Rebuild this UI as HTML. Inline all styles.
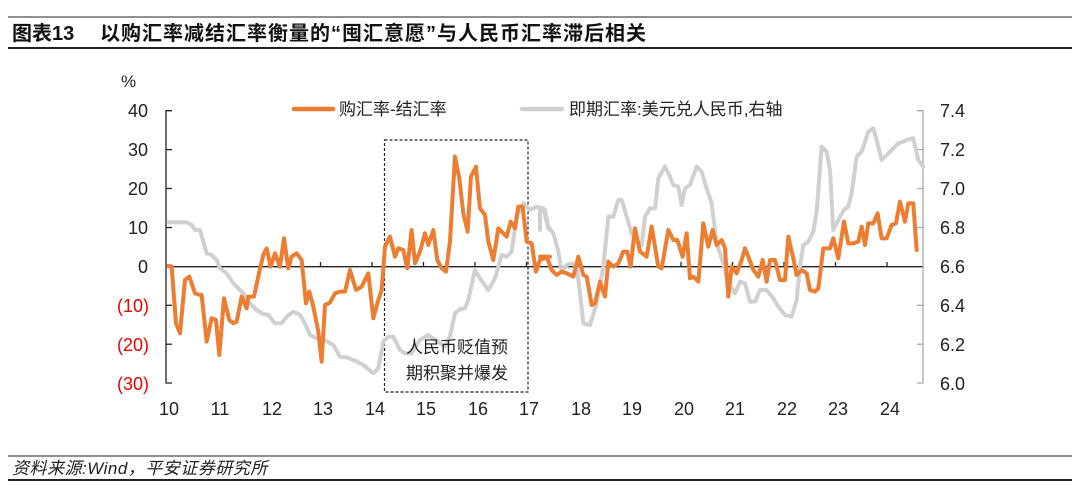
<!DOCTYPE html>
<html><head><meta charset="utf-8"><style>
body{margin:0;background:#fff;}
svg{display:block;font-family:"Liberation Sans","Noto Sans CJK SC",sans-serif;}
</style></head><body>
<svg width="1080" height="498" viewBox="0 0 1080 498" xmlns="http://www.w3.org/2000/svg">
<line x1="8" y1="17" x2="1072" y2="17" stroke="#222" stroke-width="1"/>
<line x1="8" y1="48" x2="1072" y2="48" stroke="#222" stroke-width="2"/>
<text x="12" y="40" font-size="20" font-weight="bold" fill="#111">图表13</text>
<text x="100" y="40" font-size="20" font-weight="bold" fill="#111" letter-spacing="1">以购汇率减结汇率衡量的“囤汇意愿”与人民币汇率滞后相关</text>

<line x1="8" y1="456" x2="1072" y2="456" stroke="#222" stroke-width="1"/>
<line x1="8" y1="480" x2="1072" y2="480" stroke="#222" stroke-width="2"/>
<text x="12" y="474" font-size="17" font-style="italic" fill="#222" letter-spacing="0.5">资料来源:Wind，平安证券研究所</text>

<g stroke="#222" stroke-width="1.3" fill="none">
<polyline points="172,110.7 166,110.7 166,383 172,383"/>
<line x1="166" y1="149.6" x2="172" y2="149.6"/><line x1="166" y1="188.5" x2="172" y2="188.5"/>
<line x1="166" y1="227.5" x2="172" y2="227.5"/><line x1="166" y1="305.3" x2="172" y2="305.3"/>
<line x1="166" y1="344.2" x2="172" y2="344.2"/>
<line x1="166" y1="266.7" x2="923" y2="266.7"/>
<g>
<line x1="217.5" y1="266.7" x2="217.5" y2="262"/><line x1="269" y1="266.7" x2="269" y2="262"/>
<line x1="320.5" y1="266.7" x2="320.5" y2="262"/><line x1="372" y1="266.7" x2="372" y2="262"/>
<line x1="423.5" y1="266.7" x2="423.5" y2="262"/><line x1="475" y1="266.7" x2="475" y2="262"/>
<line x1="526.5" y1="266.7" x2="526.5" y2="262"/><line x1="578" y1="266.7" x2="578" y2="262"/>
<line x1="629.5" y1="266.7" x2="629.5" y2="262"/><line x1="681" y1="266.7" x2="681" y2="262"/>
<line x1="732.5" y1="266.7" x2="732.5" y2="262"/><line x1="784" y1="266.7" x2="784" y2="262"/>
<line x1="835.5" y1="266.7" x2="835.5" y2="262"/><line x1="887" y1="266.7" x2="887" y2="262"/>
</g>
</g>
<g stroke="#aaa" stroke-width="1.3" fill="none">
<polyline points="917,110.7 923,110.7 923,383 917,383"/>
<line x1="917" y1="149.6" x2="923" y2="149.6"/><line x1="917" y1="188.5" x2="923" y2="188.5"/>
<line x1="917" y1="227.5" x2="923" y2="227.5"/><line x1="917" y1="305.3" x2="923" y2="305.3"/>
<line x1="917" y1="344.2" x2="923" y2="344.2"/>
</g>

<g font-size="18" fill="#222" text-anchor="end">
<text x="148" y="117">40</text><text x="148" y="156">30</text><text x="148" y="195">20</text>
<text x="148" y="234">10</text><text x="148" y="273">0</text>
<text x="149" y="312" fill="#e00">(10)</text><text x="149" y="351" fill="#e00">(20)</text><text x="149" y="390" fill="#e00">(30)</text>
</g>
<text x="121" y="87" font-size="17" fill="#222">%</text>
<g font-size="18" fill="#222">
<text x="940" y="117">7.4</text><text x="940" y="156">7.2</text><text x="940" y="195">7.0</text>
<text x="940" y="234">6.8</text><text x="940" y="273">6.6</text><text x="940" y="312">6.4</text>
<text x="940" y="351">6.2</text><text x="940" y="390">6.0</text>
</g>
<g font-size="18" fill="#222" text-anchor="middle">
<text x="169" y="415">10</text><text x="220" y="415">11</text><text x="272" y="415">12</text>
<text x="323" y="415">13</text><text x="375" y="415">14</text><text x="426" y="415">15</text>
<text x="478" y="415">16</text><text x="529" y="415">17</text><text x="581" y="415">18</text>
<text x="632" y="415">19</text><text x="684" y="415">20</text><text x="735" y="415">21</text>
<text x="787" y="415">22</text><text x="838" y="415">23</text><text x="890" y="415">24</text>
</g>

<line x1="294" y1="109" x2="333" y2="109" stroke="#ed7d31" stroke-width="4.5" stroke-linecap="round"/>
<text x="339" y="115" font-size="17" fill="#222">购汇率-结汇率</text>
<line x1="522" y1="109" x2="562" y2="109" stroke="#d0d0d0" stroke-width="4.5" stroke-linecap="round"/>
<text x="569" y="115" font-size="17" fill="#222">即期汇率:美元兑人民币,右轴</text>

<rect x="384.5" y="140" width="143.5" height="252" fill="none" stroke="#222" stroke-width="1.2" stroke-dasharray="3,2"/>

<g fill="none" stroke-linejoin="round" stroke-linecap="round">
<g transform="translate(100,60) scale(0.3333)" stroke="#d0d0d0">
<polyline vector-effect="non-scaling-stroke" stroke-width="4" points="205,487 260,487 275,495 285,510 300,510 320,580 335,585 350,600 360,625 380,640 400,670 430,700 450,730 470,750 490,762 505,765 525,790 545,790 560,770 580,755 600,765 615,790 630,825 650,835 670,838 700,855 720,890 740,892 760,900 790,915 820,940 835,925 850,845 865,830 880,830 900,870 915,880 935,880 960,840 985,825 1005,840 1035,860 1050,830 1065,760 1080,748 1095,745 1105,720 1125,630 1140,655 1165,690 1185,655 1205,585 1220,590 1235,575 1250,470 1270,430 1290,450 1310,440 1330,445 1345,505 1350,510"/>
</g>
<g transform="translate(540,60) scale(0.3333)" stroke="#d0d0d0">
<polyline vector-effect="non-scaling-stroke" stroke-width="4" points="0,510 0,450 15,450 25,500 40,520 55,575 65,635 80,615 95,610 110,620 120,700 130,790 150,795 170,730 190,620 205,470 220,470 235,420 245,420 260,470 275,520 290,545 305,555 315,470 330,445 345,445 355,355 375,320 390,350 400,375 415,380 425,435 435,385 450,375 470,320 485,335 500,385 515,430 530,550 550,610 565,670 585,700 600,665 615,670 630,725 645,725 660,690 680,690 700,715 715,740 735,765 755,770 770,720 780,620 790,555 805,545 820,515 830,455 845,260 860,275 870,330 880,510 890,490 900,470 912,450 925,440 935,400 950,290 965,275 985,215 1000,205 1010,240 1025,300 1045,280 1060,265 1075,250 1090,245 1100,240 1120,235 1135,300 1150,320"/>
</g>
<g transform="translate(100,60) scale(0.3333)" stroke="#ed7d31">
<polyline vector-effect="non-scaling-stroke" stroke-width="4" points="205,618 215,620 228,790 240,820 255,660 268,650 285,700 300,705 305,705 320,845 335,775 348,780 358,885 372,715 388,780 400,790 410,785 425,710 440,745 445,710 462,710 478,635 490,585 500,565 512,620 525,580 540,620 552,535 565,625 575,590 590,580 605,600 618,730 628,695 640,740 655,815 665,905 675,735 690,728 705,700 720,695 735,695 750,630 768,690 785,680 805,640 820,775 835,720 845,690 855,560 870,530 885,590 895,565 910,570 922,625 935,510 945,610 960,575 975,520 985,555 1000,510 1012,600 1025,625 1038,635 1050,545 1065,290 1078,355 1090,460 1103,515 1113,350 1128,320 1140,445 1155,465 1165,545 1180,600 1195,505 1210,520 1220,530 1232,485 1245,505 1255,440 1268,440 1280,545 1295,550 1308,635 1320,600 1350,590"/>
</g>
<g transform="translate(540,60) scale(0.3333)" stroke="#ed7d31">
<polyline vector-effect="non-scaling-stroke" stroke-width="4" points="0,590 20,590 35,630 50,645 65,635 80,640 100,650 115,590 130,645 140,650 155,735 165,730 180,665 195,710 205,605 220,620 235,610 250,575 262,575 272,620 285,505 300,575 320,590 335,500 355,620 365,625 385,510 400,540 412,540 428,590 440,520 450,655 460,650 475,665 490,490 505,560 518,510 530,555 545,540 555,565 565,710 575,620 590,640 605,600 615,565 625,590 640,630 655,650 668,600 680,665 690,600 705,600 720,660 735,660 745,530 760,595 770,645 785,630 800,640 810,690 825,695 835,685 850,565 870,565 880,535 895,595 912,485 925,550 940,550 955,545 965,500 975,555 985,490 1000,490 1013,460 1025,535 1040,535 1055,495 1068,490 1080,425 1095,485 1105,430 1120,430 1130,570"/>
</g>
</g>
<g font-size="17" fill="#222" text-anchor="middle">
<text x="457" y="353">人民币贬值预</text><text x="457" y="379">期积聚并爆发</text>
</g>
</svg>
</body></html>
